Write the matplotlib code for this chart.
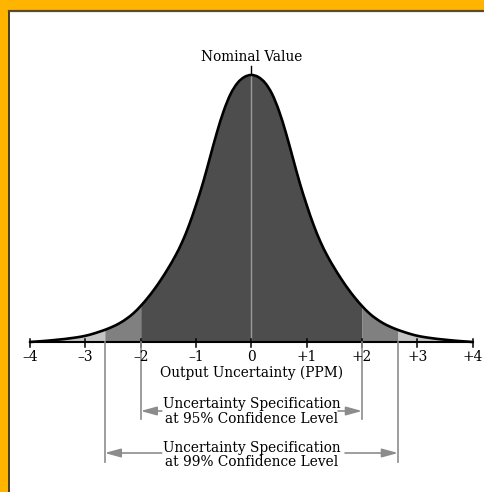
import numpy as np
import matplotlib
matplotlib.use("Agg")
import matplotlib.pyplot as plt
from matplotlib.patches import Rectangle, PathPatch
from matplotlib.lines import Line2D
from matplotlib.path import Path

# curve (x in PPM, height in arbitrary units, peak at 0)
x_ppm = [-4.0, -3.875, -3.75, -3.625, -3.5, -3.375, -3.25, -3.125, -3.0,
         -2.875, -2.75, -2.625, -2.5, -2.375, -2.25, -2.125, -2.0,
         -1.875, -1.75, -1.625, -1.5, -1.375, -1.25, -1.125, -1.0,
         -0.875, -0.75, -0.625, -0.5, -0.375, -0.25, -0.125, 0.0,
         0.125, 0.25, 0.375, 0.5, 0.625, 0.75, 0.875, 1.0,
         1.125, 1.25, 1.375, 1.5, 1.625, 1.75, 1.875, 2.0,
         2.125, 2.25, 2.375, 2.5, 2.625, 2.75, 2.875, 3.0,
         3.125, 3.25, 3.375, 3.5, 3.625, 3.75, 3.875, 4.0]
density = [0, 0.5, 1.0, 1.6, 2.3, 3.0, 3.9, 4.9, 6.2,
           8.0, 10.2, 12.6, 15.5, 19.0, 23.5, 29.0, 36,
           44, 53, 63, 74, 86, 100, 117, 137,
           159, 184, 209, 231, 248, 259, 265, 267,
           265, 259, 248, 231, 209, 184, 159, 137,
           117, 100, 86, 74, 63, 53, 44, 36,
           29.0, 23.5, 19.0, 15.5, 12.6, 10.2, 8.0, 6.2,
           4.9, 3.9, 3.0, 2.3, 1.6, 1.0, 0.5, 0]

tick_vals = [-4, -3, -2, -1, 0, 1, 2, 3, 4]
tick_text = ["\u20134", "\u20133", "\u20132", "\u20131", "0", "+1", "+2", "+3", "+4"]
limit_95 = 2.0
limit_99 = 2.65

x = np.array(x_ppm)
h = np.array(density)

plt.rcParams['font.family'] = ['DejaVu Serif']
FONT = dict(family='DejaVu Serif', stretch='condensed')

fig = plt.figure(figsize=(4.85, 4.92), dpi=100)
fig.patch.set_facecolor('#FFB400')
# white panel with a dark edge at top/left
fig.add_artist(Rectangle((10/485, 0), 1, 481/492, transform=fig.transFigure,
                         facecolor='white', edgecolor='none', zorder=-2))
fig.add_artist(Line2D([9.2/485, 9.2/485], [0, 481.5/492], transform=fig.transFigure,
                      color='#3a3428', lw=1.3, zorder=-1))
fig.add_artist(Line2D([9.2/485, 1], [481.5/492, 481.5/492], transform=fig.transFigure,
                      color='#5a4a2a', lw=1.6, zorder=-1))

ax = fig.add_axes([0, 0, 1, 1])
ax.patch.set_visible(False)
ax.set_xlim(-4.542, 4.222)
ax.set_ylim(-150, 342)
ax.axis('off')


def band(a, b):
    xs = np.concatenate([[a], x[(x > a) & (x < b)], [b]])
    return xs, np.interp(xs, x, h)


def smooth_path(px, py):
    # bezier through the read points (catmull-rom style handles)
    verts = [(px[0], py[0])]
    codes = [Path.MOVETO]
    n = len(px)
    for i in range(n - 1):
        i0, i3 = max(i - 1, 0), min(i + 2, n - 1)
        c1 = (px[i] + (px[i + 1] - px[i0]) / 6, py[i] + (py[i + 1] - py[i0]) / 6)
        c2 = (px[i + 1] - (px[i3] - px[i]) / 6, py[i + 1] - (py[i3] - py[i]) / 6)
        verts += [c1, c2, (px[i + 1], py[i + 1])]
        codes += [Path.CURVE4] * 3
    return Path(verts, codes)


# shaded areas
for a, b, c in [(-limit_95, limit_95, '#4d4d4d'),
                (-limit_99, -limit_95, '#808080'), (limit_95, limit_99, '#808080'),
                (-4, -limit_99, '#c4c4c4'), (limit_99, 4, '#c4c4c4')]:
    xs, hs = band(a, b)
    ax.fill_between(xs, 0, hs, color=c, lw=0)

ax.plot([0, 0], [0, max(density) - 1], color='#9a9a9a', lw=1)
ax.add_patch(PathPatch(smooth_path(x, h), facecolor='none', edgecolor='black',
                       lw=1.9, capstyle='round', joinstyle='round'))

# baseline axis
ax.plot([-4, 4], [0, 0], color='black', lw=1.5)
for t, lab in zip(tick_vals, tick_text):
    ax.plot([t, t], [3.5, -5], color='black', lw=1.1)
    ax.text(t, -15, lab, ha='center', va='center', fontsize=11, **FONT)

ax.text(0, -31, "Output Uncertainty (PPM)", ha='center', va='center', fontsize=11, **FONT)

# nominal value
ax.plot([0, 0], [max(density), max(density) + 9], color='black', lw=1)
ax.text(0, 285, "Nominal Value", ha='center', va='center', fontsize=11, **FONT)

# limit lines and arrows
gray = '#8c8c8c'
for lim, depth, y_arr, x_in in [(limit_95, -77, -69, (1.62, 1.567)),
                               (limit_99, -120, -111, (1.62, 1.693))]:
    for s in (-1, 1):
        ax.plot([s * lim, s * lim], [0, depth], color=gray, lw=1.2)
        start = -x_in[0] if s < 0 else x_in[1]
        ax.annotate("", xy=(s * lim, y_arr), xytext=(start, y_arr),
                    arrowprops=dict(arrowstyle='-|>,head_length=0.8,head_width=0.22',
                                    color=gray, lw=1.2, mutation_scale=12,
                                    shrinkA=0, shrinkB=0))

ax.text(0, -69.5, "Uncertainty Specification\nat 95% Confidence Level",
        ha='center', va='center', fontsize=11, linespacing=1.05, **FONT)
ax.text(0, -113, "Uncertainty Specification\nat 99% Confidence Level",
        ha='center', va='center', fontsize=11, linespacing=1.05, **FONT)

fig.savefig("out.png", dpi=100, facecolor=fig.get_facecolor())
